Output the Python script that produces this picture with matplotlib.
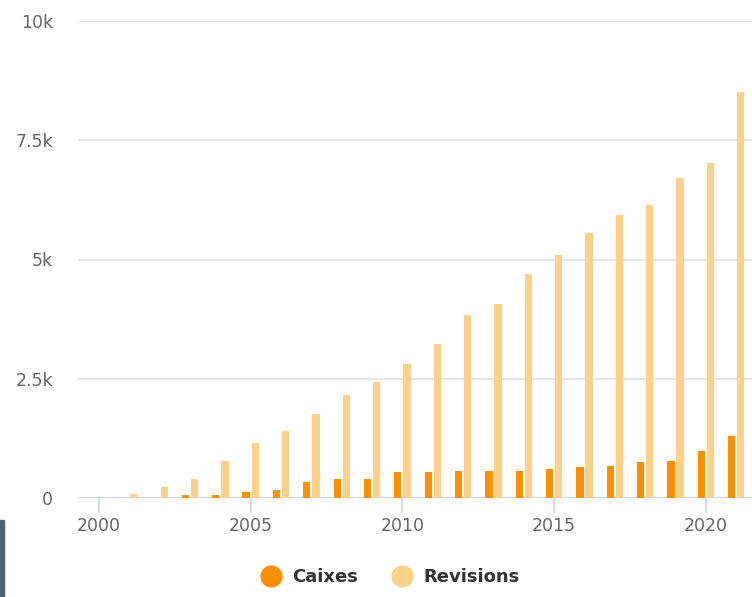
import matplotlib.pyplot as plt
import matplotlib.patches as mpatches
import numpy as np

years = list(range(2000, 2022))
caixes = [0, 0, 0, 65, 60, 120, 175, 340, 395, 395, 550, 550, 570, 570,
          570, 607, 655, 676, 760, 780, 990, 1300]
revisions = [0, 75, 230, 390, 780, 1150, 1410, 1760, 2155, 2427, 2810, 3236,
             3828, 4073, 4686, 5104, 5558, 5935, 6144, 6709, 7023, 8510]
ytick_vals = [0, 2500, 5000, 7500, 10000]
ytick_labels = ['0', '2.5k', '5k', '7.5k', '10k']
xtick_vals = [2000, 2005, 2010, 2015, 2020]

dark = '#ff8f00'
light = '#ffd088'

fig = plt.figure(figsize=(7.52, 5.97), dpi=100)
ax = fig.add_axes([78 / 752, 1 - 498 / 597, 1 - 78 / 752, (498 - 21) / 597])

x = np.array(years)
ax.bar(x - 0.15, caixes, width=0.24, color=dark, zorder=3)
ax.bar(x + 0.15, revisions, width=0.24, color=light, zorder=3)

ax.set_xlim(1999.31, 2021.52)
ax.set_ylim(0, 10000)

for v in ytick_vals[1:]:
    ax.axhline(v, color='#e6e6e6', linewidth=1.5, zorder=1)
ax.axhline(0, color='#ccd6eb', linewidth=1.5, zorder=2)

for s in ax.spines.values():
    s.set_visible(False)

ax.set_yticks(ytick_vals)
ax.set_yticklabels(ytick_labels)
ax.tick_params(axis='y', length=0, pad=18, labelsize=12.5, labelcolor='#666666')
ax.set_xticks(xtick_vals)
ax.set_xticklabels([str(v) for v in xtick_vals])
ax.tick_params(axis='x', length=11, width=1.2, color='#ccd6eb', pad=3,
               labelsize=12.5, labelcolor='#666666')

handles = [
    plt.Line2D([], [], marker='o', linestyle='', markersize=15,
               markerfacecolor=dark, markeredgecolor=dark, label='Caixes'),
    plt.Line2D([], [], marker='o', linestyle='', markersize=15,
               markerfacecolor=light, markeredgecolor=light, label='Revisions'),
]
leg = fig.legend(handles=handles, loc='center', bbox_to_anchor=(386 / 752, 1 - 577 / 597),
                 ncol=2, frameon=False, handletextpad=0.2, columnspacing=1.4,
                 prop={'weight': 'bold', 'size': 13})
for t in leg.get_texts():
    t.set_color('#333333')

fig.patches.append(mpatches.Rectangle((0, 0), 4 / 752, 77 / 597, transform=fig.transFigure,
                                      color='#4f6272', zorder=5))

fig.savefig('out.png', dpi=100)
